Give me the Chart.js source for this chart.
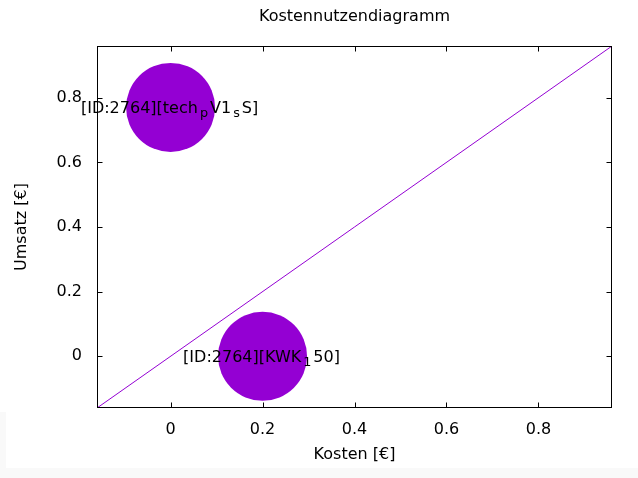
<!DOCTYPE html>
<html>
<head>
<meta charset="utf-8">
<script src="https://cdn.jsdelivr.net/npm/chart.js@4.4.0/dist/chart.umd.min.js"></script>
<style>
  html, body { margin: 0; padding: 0; background: #fff; }
  #wrap { position: relative; width: 638px; height: 478px; background: #f9f9f9; }
  #sheet1 { position: absolute; left: 0; top: 0; width: 638px; height: 412px; background: #fff; }
  #sheet2 { position: absolute; left: 6px; top: 412px; width: 632px; height: 56px; background: #fff; }
  canvas { position: absolute; left: 0; top: 0; }
</style>
</head>
<body>
<div id="wrap">
  <div id="sheet1"></div>
  <div id="sheet2"></div>
  <canvas id="chart" width="638" height="478"></canvas>
</div>
<script>
// data
const pointLabels = ['[ID:2764][tech_pV1_sS]', '[ID:2764][KWK_150]'];
const kosten = [0, 0.2];
const umsatz = [0.77, 0];
const diagKosten = [-0.16, 0.96];
const diagUmsatz = [-0.16, 0.96];
const xTicks = [0, 0.2, 0.4, 0.6, 0.8];
const yTicks = [0, 0.2, 0.4, 0.6, 0.8];

const violet = '#9400d3';
const fontFam = '"DejaVu Sans", sans-serif';
const baseFont = { family: fontFam, size: 16, weight: 'normal' };

// gnuplot style enhanced text: "_x" puts x as subscript
function drawEnhanced(ctx, text, cx, baseY) {
    const parts = [];
    for (let i = 0; i < text.length; i++) {
        if (text[i] === '_' && i + 1 < text.length) {
            parts.push({ t: text[i + 1], sub: true });
            i++;
        } else if (parts.length && !parts[parts.length - 1].sub) {
            parts[parts.length - 1].t += text[i];
        } else {
            parts.push({ t: text[i], sub: false });
        }
    }
    const gap = 2;
    let total = 0;
    parts.forEach(p => {
        ctx.font = (p.sub ? 12.8 : 16) + 'px ' + fontFam;
        p.w = ctx.measureText(p.t).width + (p.sub ? 2 * gap : 0);
        total += p.w;
    });
    let x = cx - total / 2;
    ctx.textAlign = 'left';
    ctx.textBaseline = 'alphabetic';
    parts.forEach(p => {
        ctx.font = (p.sub ? 12.8 : 16) + 'px ' + fontFam;
        ctx.fillText(p.t, x + (p.sub ? gap : 0), baseY + (p.sub ? 3.5 : 0));
        x += p.w;
    });
}

const framePlugin = {
    id: 'frame',
    afterDatasetsDraw(chart) {
        const ctx = chart.ctx;
        const meta = chart.getDatasetMeta(1);
        ctx.save();
        ctx.fillStyle = '#000';
        meta.data.forEach((pt, i) => {
            drawEnhanced(ctx, pointLabels[i], pt.x - 1, pt.y + 6);
        });
        ctx.restore();
    },
    afterDraw(chart) {
        const { ctx, chartArea: a, scales } = chart;
        const L = Math.round(a.left) + 0.5, R = Math.round(a.right) - 0.5;
        const T = Math.round(a.top) + 0.5, B = Math.round(a.bottom) - 0.5;
        ctx.save();
        ctx.strokeStyle = '#000';
        ctx.lineWidth = 1;
        ctx.strokeRect(L, T, R - L, B - T);
        ctx.beginPath();
        xTicks.forEach(v => {
            const px = Math.round(scales.x.getPixelForValue(v)) + 0.5;
            ctx.moveTo(px, B); ctx.lineTo(px, B - 5);
            ctx.moveTo(px, T); ctx.lineTo(px, T + 5);
        });
        yTicks.forEach(v => {
            const py = Math.round(scales.y.getPixelForValue(v)) + 0.5;
            ctx.moveTo(L, py); ctx.lineTo(L + 5, py);
            ctx.moveTo(R, py); ctx.lineTo(R - 5, py);
        });
        ctx.stroke();
        ctx.restore();
    }
};

const ctx = document.getElementById('chart').getContext('2d');

new Chart(ctx, {
    type: 'scatter',
    data: {
        datasets: [{
            label: 'diagonale',
            data: diagKosten.map((x, i) => ({ x: x, y: diagUmsatz[i] })),
            showLine: true,
            borderColor: violet,
            borderWidth: 1,
            pointRadius: 0,
            pointHoverRadius: 0
        }, {
            label: 'projekte',
            data: kosten.map((x, i) => ({ x: x, y: umsatz[i] })),
            backgroundColor: violet,
            borderWidth: 0,
            pointRadius: 44.5,
            pointHoverRadius: 44.5
        }]
    },
    options: {
        responsive: false,
        animation: false,
        events: [],
        layout: { autoPadding: false, padding: { top: 0, right: 26, bottom: 0, left: 0 } },
        plugins: {
            legend: { display: false },
            tooltip: { enabled: false },
            title: {
                display: true,
                fullSize: false,
                text: 'Kostennutzendiagramm',
                color: '#000',
                font: baseFont,
                padding: { top: 7, bottom: 19.8 }
            }
        },
        scales: {
            x: {
                type: 'linear',
                min: -0.16,
                max: 0.96,
                grid: { display: false, drawTicks: false },
                border: { display: false },
                afterBuildTicks: s => { s.ticks = xTicks.map(v => ({ value: v })); },
                afterFit: s => { s.height = 70; s.paddingLeft = 0; s.paddingRight = 0; },
                ticks: {
                    color: '#000',
                    font: baseFont,
                    padding: 12,
                    autoSkip: false,
                    maxRotation: 0,
                    callback: v => String(v)
                },
                title: {
                    display: true,
                    text: 'Kosten [€]',
                    color: '#000',
                    font: baseFont,
                    padding: { top: 0, bottom: 14 }
                }
            },
            y: {
                type: 'linear',
                min: -0.16,
                max: 0.96,
                grid: { display: false, drawTicks: false },
                border: { display: false },
                afterBuildTicks: s => { s.ticks = yTicks.map(v => ({ value: v })); },
                afterFit: s => { s.width = 97; s.paddingTop = 0; s.paddingBottom = 0; },
                ticks: {
                    color: '#000',
                    font: baseFont,
                    padding: 15,
                    autoSkip: false,
                    callback: v => String(v)
                },
                title: {
                    display: true,
                    text: 'Umsatz [€]',
                    color: '#000',
                    font: baseFont,
                    padding: { top: 12, bottom: 0 }
                }
            }
        }
    },
    plugins: [framePlugin]
});
</script>
</body>
</html>
